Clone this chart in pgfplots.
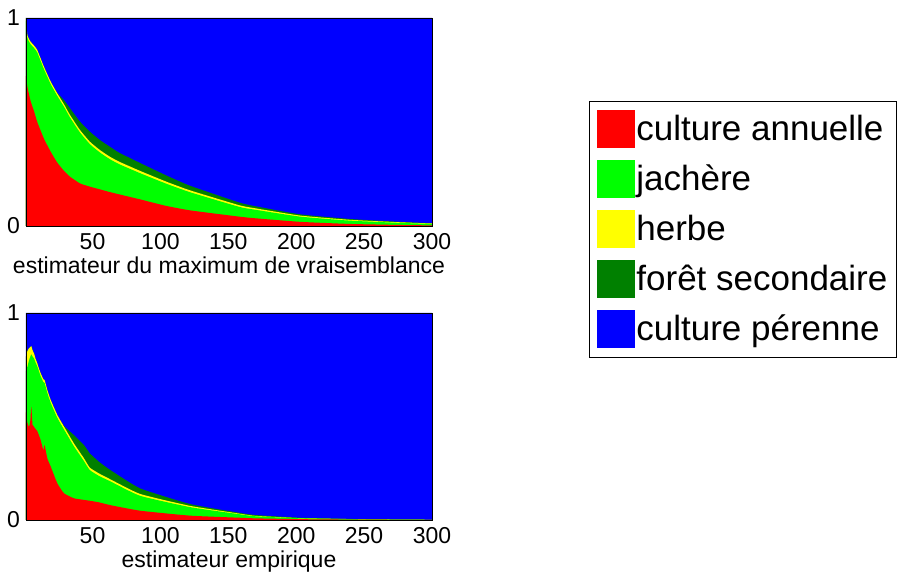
\documentclass[border=0pt]{standalone}
\usepackage{fontspec}
\setmainfont{Liberation Sans}
\usepackage{pgfplots}
\usepackage{pgfplotstable}
\pgfplotsset{compat=1.18}

\definecolor{cann}{RGB}{255,0,0}
\definecolor{jach}{RGB}{0,255,0}
\definecolor{herb}{RGB}{255,255,0}
\definecolor{fors}{RGB}{0,128,0}
\definecolor{cper}{RGB}{0,0,255}

% cumulative tops: R annuelle, G +jachere, Y +herbe, D +foret, T total
\pgfplotstableread{
x     R      G      Y      D      T
1     0.720  0.985  1.000  1.000  1
2     0.670  0.905  0.918  0.918  1
4.4   0.600  0.874  0.886  0.886  1
7     0.550  0.855  0.867  0.867  1
9.3   0.500  0.834  0.846  0.846  1
14.2  0.420  0.754  0.766  0.766  1
19.2  0.357  0.682  0.694  0.694  1
24    0.305  0.626  0.638  0.640  1
29    0.265  0.573  0.585  0.605  1
33.4  0.237  0.522  0.534  0.566  1
40.7  0.205  0.450  0.462  0.502  1
48.1  0.189  0.393  0.405  0.453  1
55.5  0.176  0.353  0.365  0.413  1
62.8  0.163  0.321  0.333  0.381  1
69.7  0.152  0.297  0.309  0.352  1
85    0.128  0.254  0.265  0.303  1
104   0.097  0.204  0.214  0.244  1
122   0.075  0.162  0.171  0.193  1
158   0.045  0.092  0.100  0.113  1
170   0.037  0.078  0.085  0.095  1
203   0.020  0.045  0.050  0.056  1
239   0.010  0.026  0.030  0.034  1
276   0.005  0.015  0.018  0.020  1
300   0.003  0.010  0.012  0.013  1
}\mle

\pgfplotstableread{
x     R      G      Y      D      T
1     0.520  0.720  0.790  0.790  1
2     0.470  0.740  0.815  0.815  1
3.2   0.450  0.770  0.830  0.830  1
4.2   0.480  0.790  0.835  0.835  1
4.9   0.547  0.800  0.840  0.840  1
5.8   0.460  0.790  0.820  0.820  1
6.9   0.450  0.780  0.805  0.805  1
8     0.440  0.762  0.780  0.780  1
9.3   0.430  0.742  0.757  0.757  1
10.5  0.410  0.720  0.733  0.733  1
11.8  0.386  0.695  0.709  0.709  1
13.8  0.338  0.666  0.680  0.680  1
14.7  0.362  0.662  0.676  0.676  1
16.7  0.298  0.614  0.628  0.628  1
19.2  0.258  0.566  0.580  0.580  1
24.1  0.177  0.493  0.507  0.507  1
29    0.129  0.437  0.451  0.455  1
36.3  0.105  0.356  0.370  0.410  1
43.7  0.097  0.284  0.298  0.362  1
48    0.093  0.241  0.253  0.322  1
55    0.085  0.212  0.224  0.280  1
63    0.072  0.187  0.197  0.242  1
85    0.045  0.117  0.126  0.153  1
122   0.021  0.062  0.068  0.077  1
158   0.011  0.028  0.031  0.035  1
170   0.008  0.018  0.020  0.024  1
203   0.004  0.008  0.009  0.011  1
240   0.002  0.004  0.0045 0.005  1
275   0.001  0.002  0.002  0.002  1
300   0.0005 0.001  0.001  0.001  1
}\emp

\pgfplotsset{
  panel/.style={
    scale only axis, width=406pt, height=208pt,
    xmin=1, xmax=300, ymin=0, ymax=1,
    xtick={50,100,150,200,250,300}, ytick={0,1},
    major tick length=0pt,
    axis on top, axis line style={line width=0.8pt},
    /pgf/number format/assume math mode=true,
    tick label style={font=\fontsize{23}{27}\selectfont},
    xticklabel style={inner sep=0pt, anchor=north, yshift=-7pt},
    yticklabel style={inner sep=0pt, anchor=east, xshift=-6pt},
    xlabel style={font=\fontsize{23}{27}\selectfont, inner sep=0pt,
      at={(axis description cs:0.5,0)}, anchor=north, yshift=-31pt},
    legend image code/.code={\fill[##1] (0pt,-20pt) rectangle (38pt,18pt);},
  },
  area/.style={draw=none, smooth, tension=0.3},
}

\begin{document}
\begin{tikzpicture}
\path[use as bounding box] (0pt,0pt) rectangle (898pt,571pt);

\begin{axis}[panel, at={(26pt,345pt)}, anchor=south west,
    xlabel={estimateur du maximum de vraisemblance},
    reverse legend,
    legend cell align=left,
    legend style={at={(1.3867,0.601)}, anchor=north west,
      draw=black, line width=0.8pt, inner xsep=8pt, inner ysep=9pt,
      font=\fontsize{35}{42}\selectfont,
      nodes={inner sep=1pt},
      row sep=12pt,
      /tikz/every even column/.append style={column sep=5pt}},
]
\addplot[fill=cper, area] table[x=x, y=T] {\mle} \closedcycle;
\addplot[fill=fors, area] table[x=x, y=D] {\mle} \closedcycle;
\addplot[fill=herb, area] table[x=x, y=Y] {\mle} \closedcycle;
\addplot[fill=jach, area] table[x=x, y=G] {\mle} \closedcycle;
\addplot[fill=cann, area] table[x=x, y=R] {\mle} \closedcycle;
\legend{culture pérenne, forêt secondaire, herbe, jachère, culture annuelle}
\end{axis}

\begin{axis}[panel, at={(26pt,51pt)}, anchor=south west, height=207pt,
    xlabel={estimateur empirique},
]
\addplot[fill=cper, area] table[x=x, y=T] {\emp} \closedcycle;
\addplot[fill=fors, area] table[x=x, y=D] {\emp} \closedcycle;
\addplot[fill=herb, area] table[x=x, y=Y] {\emp} \closedcycle;
\addplot[fill=jach, area] table[x=x, y=G] {\emp} \closedcycle;
\addplot[fill=cann, area] table[x=x, y=R] {\emp} \closedcycle;
\end{axis}
\end{tikzpicture}
\end{document}
